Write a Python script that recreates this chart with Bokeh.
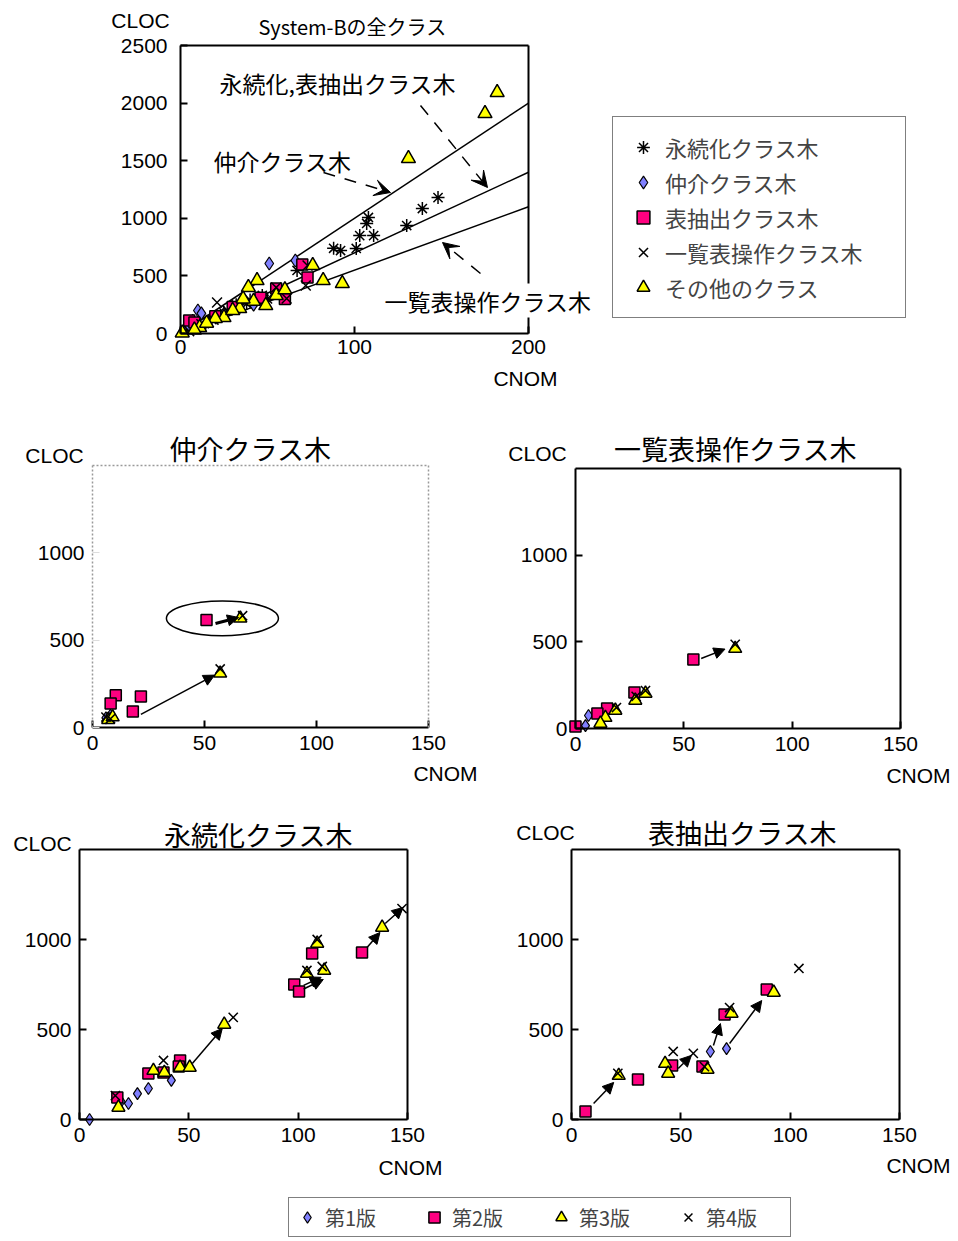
from bokeh.plotting import figure
from bokeh.models import (Range1d, Label, Arrow, NormalHead, VeeHead, Legend,
                          LegendItem, FixedTicker, LinearAxis)
from bokeh.layouts import column, row
from bokeh.embed import file_html
from bokeh.resources import INLINE

JP = "Noto Sans CJK JP"
LAT = "Liberation Sans"
C_DIA = "#8080ff"
C_SQ = "#ff0080"
C_TRI = "#ffff00"

# ---------------- data: overview chart (System-B all classes) ----------------
persist_cnom = [108, 107, 103, 111, 101, 92, 88, 130, 139, 148, 67, 47, 45, 40, 38, 32, 18, 16, 50, 25]
persist_cloc = [1007, 955, 850, 850, 738, 720, 740, 937, 1085, 1180, 547, 330, 300, 290, 260, 250, 120, 100, 300, 180]
mediate_cnom = [51, 66, 10, 12, 7, 25, 33, 42, 5]
mediate_cloc = [608, 634, 200, 175, 110, 170, 220, 250, 60]
extract_cnom = [73, 55, 5, 8, 30, 46, 60, 70, 20]
extract_cloc = [486, 390, 113, 95, 230, 310, 300, 600, 150]
listop_cnom = [21, 61, 72, 73, 55, 27, 32, 19, 12, 5]
listop_cloc = [269, 304, 417, 590, 400, 200, 220, 120, 80, 20]
other_cnom = [182, 175, 131, 82, 93, 76, 44, 39, 49, 34, 25, 11, 1, 30, 20, 15, 42, 55, 60, 8, 36]
other_cloc = [2092, 1910, 1519, 460, 434, 590, 460, 400, 243, 217, 139, 52, 5, 200, 130, 90, 280, 330, 380, 30, 300]
trend_slopes = [10.0, 7.0, 5.5]

# ---------------- data: per-version panels ----------------
# 仲介クラス木
medA_v1 = ([6, 8], [55, 70])
medA_v2 = ([10.4, 8.1, 21.6, 18, 50.9], [184, 138, 178, 92, 615])
medA_v3 = ([7, 9, 57, 66], [45, 60, 310, 625])
medA_v4 = ([6, 8, 57, 67], [60, 50, 335, 640])
medA_arrows = [(21.6, 75, 54.5, 300), (54.9, 595, 65.2, 630)]
medA_oval = (58, 625, 50, 200)
# 一覧表操作クラス木
lstB_v1 = ([6, 4.6], [75, 17])
lstB_v2 = ([54.4, 27.2, 14.6, 10.1, 0], [398, 208, 115, 87, 12])
lstB_v3 = ([73.7, 27.6, 32.3, 18.4, 13.8, 11.5], [461, 162, 202, 104, 63, 29])
lstB_v4 = ([73.7, 32.3, 18.9, 28], [485, 219, 121, 185])
lstB_arrows = [(58, 404, 69, 458)]
# 永続化クラス木
perC_v1 = ([4.6, 22.4, 26.5, 31.5, 42, 19], [0, 89, 144, 172, 217, 100])
perC_v2 = ([17.3, 31.5, 38.4, 46, 45.4, 98.2, 100.4, 106.4, 129.2],
           [122, 256, 261, 328, 294, 750, 711, 922, 928])
perC_v3 = ([17.8, 33.8, 38.8, 46, 50.4, 66.2, 104, 111.9, 108.7, 138.4],
           [67, 272, 261, 289, 289, 528, 811, 828, 978, 1067])
perC_v4 = ([38.4, 16.4, 70.3, 104, 111, 108.7, 147.5], [328, 133, 567, 828, 850, 1000, 1172])
perC_arrows = [(51.6, 311, 65.3, 506), (102.5, 745, 110.5, 790), (102.5, 725, 111.5, 778),
               (131.5, 955, 137.4, 1039), (139.8, 1089, 148, 1178)]
# 表抽出クラス木
extD_v1 = ([63.5, 70.9], [378, 394])
extD_v2 = ([6.4, 30.4, 46, 59.9, 70, 89.3], [44, 222, 300, 294, 583, 722])
extD_v3 = ([21.6, 42.8, 44.2, 62.2, 73.2, 92.5], [244, 311, 256, 278, 589, 706])
extD_v4 = ([21.2, 46.5, 55.7, 60.8, 72.3, 104], [256, 378, 367, 294, 622, 839])
extD_arrows = [(10.1, 89, 19.3, 206), (48.8, 283, 54.8, 356), (64.9, 411, 68.1, 533), (72.3, 422, 87, 661)]

version_labels = ["第1版", "第2版", "第3版", "第4版"]
class_labels = ["永続化クラス木", "仲介クラス木", "表抽出クラス木", "一覧表操作クラス木", "その他のクラス"]


def blank_axis(loc_value, bounds, color="black", width=2, dash="solid"):
    return LinearAxis(ticker=FixedTicker(ticks=[]), major_label_text_font_size="0px",
                      axis_line_width=width, axis_line_color=color, axis_line_dash=dash,
                      major_tick_line_color=None, minor_tick_line_color=None,
                      fixed_location=loc_value, bounds=bounds)


class Panel:
    """Figure whose frame is the whole canvas; page-pixel box -> data mapping."""

    def __init__(self, box, frame, xmax, ymax, xt, yt):
        px0, py0, px1, py1 = box          # figure extent on the page
        fx0, fy_top, fx1, fy0 = frame     # axis box on the page
        self.px0, self.py0, self.px1, self.py1 = box
        self.kx = xmax / (fx1 - fx0)
        self.ky = ymax / (fy0 - fy_top)
        self.fx0, self.fy0 = fx0, fy0
        xr = ((px0 - fx0) * self.kx, (px1 - fx0) * self.kx)
        yr = ((fy0 - py1) * self.ky, (fy0 - py0) * self.ky)
        p = figure(width=px1 - px0, height=py1 - py0, x_range=Range1d(*xr), y_range=Range1d(*yr),
                   output_backend="svg", toolbar_location=None, title=None, min_border=0)
        p.xgrid.visible = False
        p.ygrid.visible = False
        p.outline_line_color = None
        p.xaxis.ticker = FixedTicker(ticks=xt)
        p.yaxis.ticker = FixedTicker(ticks=yt)
        p.xaxis.fixed_location = 0
        p.yaxis.fixed_location = 0
        p.xaxis.bounds = (0, xmax)
        p.yaxis.bounds = (0, ymax)
        for ax in (p.xaxis[0], p.yaxis[0]):
            ax.major_tick_in = 7
            ax.major_tick_out = 0
            ax.minor_tick_line_color = None
            ax.axis_line_width = 2
            ax.major_tick_line_width = 2
            ax.axis_line_color = "black"
            ax.major_label_text_font = LAT
            ax.major_label_text_font_size = "21px"
            ax.major_label_text_color = "black"
            ax.major_label_standoff = 8
        self.top_axis = blank_axis(ymax, (0, xmax))
        self.right_axis = blank_axis(xmax, (0, ymax))
        p.add_layout(self.top_axis, "above")
        p.add_layout(self.right_axis, "right")
        self.p = p

    def dx(self, px):
        return (px - self.fx0) * self.kx

    def dy(self, py):
        return (self.fy0 - py) * self.ky

    def text(self, px, py, text, size, font=JP, align="center", bg=None):
        self.p.add_layout(Label(x=self.dx(px), y=self.dy(py), text=text, text_font=font,
                                text_font_size=size, text_align=align, text_baseline="middle",
                                text_color="black", background_fill_color=bg))

    def legend_loc(self, left, bottom):
        return (left - self.px0, self.py1 - bottom)


def versions(p, v1, v2, v3, v4):
    r1 = p.scatter(v1[0], v1[1], marker="diamond", size=12, fill_color=C_DIA, line_color="black", line_width=1.2)
    r2 = p.scatter(v2[0], v2[1], marker="square", size=11, fill_color=C_SQ, line_color="black", line_width=1.5)
    r3 = p.scatter(v3[0], v3[1], marker="triangle", size=13, fill_color=C_TRI, line_color="black", line_width=1.5)
    r4 = p.scatter(v4[0], v4[1], marker="x", size=13, line_color="black", line_width=1.5)
    return [r1, r2, r3, r4]


def arrows(p, arr, width=1.5):
    for (x0, y0, x1, y1) in arr:
        p.add_layout(Arrow(end=NormalHead(size=11, fill_color="black", line_color="black"),
                           x_start=x0, y_start=y0, x_end=x1, y_end=y1,
                           line_width=width, line_color="black"))


# ---------------- top overview chart (with class legend) ----------------
T = Panel((0, 0, 955, 400), (180, 45, 528, 333), 200, 2500, [0, 100, 200], [0, 500, 1000, 1500, 2000, 2500])
top = T.p
top.yaxis.major_label_standoff = 13
top.xaxis.major_label_standoff = 6
for s in trend_slopes:
    top.line([0, 200], [0, s * 200], line_color="black", line_width=1.5)
rp = top.scatter(persist_cnom, persist_cloc, marker="asterisk", size=13, line_color="black", line_width=1.5)
rm = top.scatter(mediate_cnom, mediate_cloc, marker="diamond", size=13, fill_color=C_DIA, line_color="black", line_width=1.2)
re_ = top.scatter(extract_cnom, extract_cloc, marker="square", size=11, fill_color=C_SQ, line_color="black", line_width=1.5)
rl = top.scatter(listop_cnom, listop_cloc, marker="x", size=14, line_color="black", line_width=1.5)
ro = top.scatter(other_cnom, other_cloc, marker="triangle", size=14, fill_color=C_TRI, line_color="black", line_width=1.5)
for (a, b, c, d) in [(420, 105, 487, 187), (323, 172, 390, 192), (480, 273, 442, 242)]:
    top.add_layout(Arrow(end=VeeHead(size=16, fill_color="black", line_color="black"),
                         x_start=T.dx(a), y_start=T.dy(b), x_end=T.dx(c), y_end=T.dy(d),
                         line_width=1.5, line_color="black", line_dash="12 10"))
T.text(140, 20, "CLOC", "21px", LAT)
T.text(352, 26, "System-Bの全クラス", "20px")
T.text(525, 378, "CNOM", "21px", LAT)
T.text(219, 82, "永続化,表抽出クラス木", "23px", align="left")
T.text(213, 160, "仲介クラス木", "23px", align="left")
T.text(384, 300, "一覧表操作クラス木", "23px", align="left", bg="white")
leg1 = Legend(items=[LegendItem(label=t, renderers=[r]) for t, r in zip(class_labels, [rp, rm, re_, rl, ro])],
              location=T.legend_loc(612, 318), orientation="vertical", label_text_font=JP,
              label_text_font_size="22px", glyph_width=32, glyph_height=32, label_height=32,
              spacing=3, padding=14, margin=0, label_standoff=6, label_width=226,
              border_line_color="black", border_line_width=1.5, background_fill_color="white")
top.add_layout(leg1, "center")

# ---------------- panels ----------------
PX = [0, 50, 100, 150]
PY = [0, 500, 1000]

A = Panel((0, 400, 490, 790), (92, 465, 428, 727), 150, 1500, PX, PY)
pA = A.p
for ax in (pA.xaxis[0], pA.yaxis[0]):
    ax.axis_line_color = "#9a9a9a"
    ax.axis_line_dash = "2 2"
    ax.axis_line_width = 1.5
    ax.major_tick_line_color = "#dddddd"
    ax.major_tick_line_width = 1
A.right_axis.axis_line_color = "#9a9a9a"
A.right_axis.axis_line_dash = "2 2"
A.right_axis.axis_line_width = 1.5
versions(pA, medA_v1, medA_v2, medA_v3, medA_v4)
pA.ellipse(x=[medA_oval[0]], y=[medA_oval[1]], width=medA_oval[2], height=medA_oval[3],
           fill_color=None, line_color="black", line_width=1.5)
arrows(pA, medA_arrows[:1])
arrows(pA, medA_arrows[1:], width=3)
A.text(250, 448, "仲介クラス木", "27px")
A.text(54, 455, "CLOC", "21px", LAT)
A.text(445, 773, "CNOM", "21px", LAT)

B = Panel((490, 400, 955, 790), (575, 468, 900, 728), 150, 1500, PX, PY)
versions(B.p, lstB_v1, lstB_v2, lstB_v3, lstB_v4)
arrows(B.p, lstB_arrows)
B.text(735, 448, "一覧表操作クラス木", "27px")
B.text(537, 453, "CLOC", "21px", LAT)
B.text(918, 775, "CNOM", "21px", LAT)

C = Panel((0, 790, 490, 1190), (79, 849, 407, 1119), 150, 1500, PX, PY)
versions(C.p, perC_v1, perC_v2, perC_v3, perC_v4)
arrows(C.p, perC_arrows)
C.text(258, 834, "永続化クラス木", "27px")
C.text(42, 843, "CLOC", "21px", LAT)
C.text(410, 1167, "CNOM", "21px", LAT)

D = Panel((490, 790, 955, 1190), (571, 849, 899, 1119), 150, 1500, PX, PY)
versions(D.p, extD_v1, extD_v2, extD_v3, extD_v4)
arrows(D.p, extD_arrows)
D.text(742, 832, "表抽出クラス木", "27px")
D.text(545, 832, "CLOC", "21px", LAT)
D.text(918, 1165, "CNOM", "21px", LAT)

# ---------------- bottom version legend ----------------
bf = figure(width=955, height=48, output_backend="svg", toolbar_location=None, title=None,
            x_range=Range1d(-1, 0), y_range=Range1d(-1, 0), x_axis_type=None, y_axis_type=None, min_border=0)
bf.grid.visible = False
bf.outline_line_color = None
# legend keys: the version series of the 表抽出 panel, lying outside this strip's view
bren = versions(bf, extD_v1, extD_v2, extD_v3, extD_v4)
leg2 = Legend(items=[LegendItem(label=t, renderers=[r]) for t, r in zip(version_labels, bren)],
              location=(288, 1), orientation="horizontal", label_text_font=JP, label_text_font_size="20px",
              glyph_width=28, glyph_height=30, label_height=30, spacing=15, padding=4, margin=0,
              label_standoff=4, label_width=80, border_line_color="black", border_line_width=1.5,
              background_fill_color="white")
bf.add_layout(leg2, "center")

layout = column(row(top), row(pA, B.p), row(C.p, D.p), bf)
open("out.html", "w").write(file_html(layout, INLINE))
